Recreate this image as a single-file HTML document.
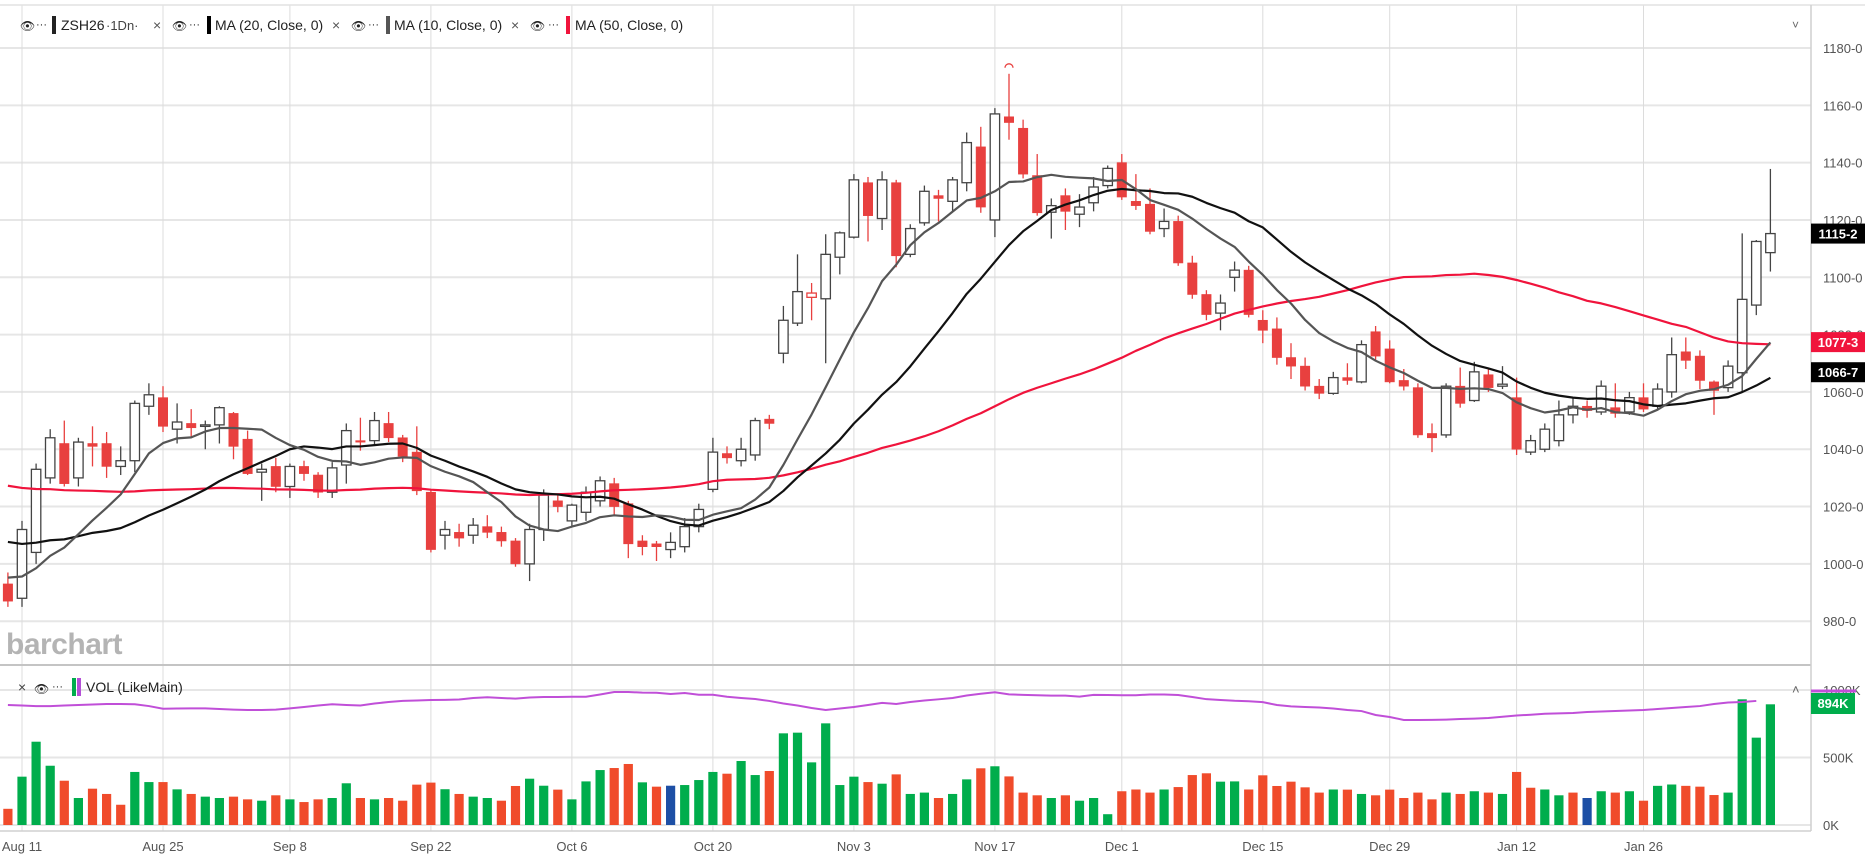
<!DOCTYPE html>
<html><head><meta charset="utf-8">
<style>
html,body{margin:0;padding:0;background:#fff;}
svg{display:block;font-family:"Liberation Sans",sans-serif;}
</style></head>
<body>
<svg id="chart" width="1865" height="858" viewBox="0 0 1865 858" xmlns="http://www.w3.org/2000/svg">
  <g id="grid"></g>
  <text x="6" y="654" font-size="30" font-weight="bold" fill="#b4b4b4" letter-spacing="-0.5">barchart</text>
  <g id="vol"></g>
  <g id="candles"></g>
  <g id="mas"></g>
  <g id="axes"></g>
  <g id="header" font-size="14" fill="#222">
    <text x="20" y="30" font-size="12">👁</text>
    <text x="36" y="28" font-size="11">···</text>
    <rect x="52" y="16" width="4" height="18" fill="#222"/>
    <text x="61" y="30">ZSH26</text>
    <text x="106" y="30" font-size="13" fill="#444">·1Dn·</text>
    <text x="153" y="30" fill="#555">×</text>
    <text x="172" y="30" font-size="12">👁</text>
    <text x="189" y="28" font-size="11">···</text>
    <rect x="207" y="16" width="4" height="18" fill="#000"/>
    <text x="215" y="30">MA (20, Close, 0)</text>
    <text x="332" y="30" fill="#555">×</text>
    <text x="351" y="30" font-size="12">👁</text>
    <text x="368" y="28" font-size="11">···</text>
    <rect x="386" y="16" width="4" height="18" fill="#555"/>
    <text x="394" y="30">MA (10, Close, 0)</text>
    <text x="511" y="30" fill="#555">×</text>
    <text x="530" y="30" font-size="12">👁</text>
    <text x="548" y="28" font-size="11">···</text>
    <rect x="566" y="16" width="4" height="18" fill="#f0143c"/>
    <text x="575" y="30">MA (50, Close, 0)</text>
    <text x="1792" y="29" font-size="12" fill="#666">˅</text>
  </g>
  <g id="volheader" font-size="14" fill="#222">
    <text x="18" y="692" fill="#444">×</text>
    <text x="34" y="693" font-size="12">👁</text>
    <text x="52" y="690" font-size="11">···</text>
    <rect x="72" y="678" width="4" height="18" fill="#00ad4c"/>
    <rect x="77" y="678" width="4" height="18" fill="#b34fd6"/>
    <text x="86" y="692">VOL (LikeMain)</text>
    <text x="1792" y="694" font-size="13" fill="#666">˄</text>
  </g>
</svg>
<script>
const opens=[993,988,1004,1030,1042,1030,1042,1042,1034,1036,1055,1058,1047,1049,1048,1048.5,1052.5,1043.5,1032,1034,1027,1034,1031,1025,1034.5,1043,1043,1049,1044,1039,1025,1010,1011,1010,1013,1011,1008,1000,1012,1022,1015,1018,1022,1028,1021,1008,1007,1005,1006,1013,1026,1038.5,1036,1038,1050.5,1073.5,1084,1093,1092.5,1107,1114,1133,1120.5,1133,1108,1119,1128.5,1126.5,1133,1145.5,1120,1156,1152,1135.5,1122.7,1128.5,1122,1126,1132,1140,1126.5,1125.5,1117,1119.5,1105,1094,1087.5,1100,1102.5,1085,1082,1072,1069,1062,1059.5,1065,1063.5,1081,1075,1064,1061.5,1045.5,1045,1062,1057,1066,1062,1058,1039,1040,1043,1052,1055,1053,1054.5,1053,1058,1055,1060,1074,1072.5,1063.5,1061.5,1066.7,1090.3,1108.6];
const highs=[997,1015,1035,1047,1050,1044,1048,1046,1041,1057,1063,1062,1056,1054,1050,1055,1053,1046.5,1035,1037,1035,1036,1032,1035.5,1049,1051,1053,1053,1045,1048,1026,1015,1014,1016,1017,1013,1009,1014,1026,1024,1021,1027,1030.5,1030,1022,1010,1008,1011,1016,1021,1044,1041,1044,1051,1052,1090,1108,1098,1115,1116,1136,1135,1137,1134,1118.5,1132,1130.5,1135,1150.5,1152.5,1159,1171,1155,1143,1127.5,1131,1129,1135,1139,1143,1136,1131,1124,1121.5,1107.5,1095.5,1094,1105.5,1104,1088.5,1086,1077,1072,1064.5,1067,1070,1078,1083,1078,1068,1063,1049,1063,1068.5,1070.5,1068,1069,1065,1045,1049,1057,1058,1057,1064,1063,1060,1063,1063,1079,1079,1074.5,1064,1071,1115.3,1113,1137.8];
const lows=[985,985,1000,1028,1027,1027,1034,1030,1031,1032,1052,1046,1042,1044,1040,1042,1036.5,1031,1022,1025,1023,1029,1023,1023,1028,1039.5,1041.5,1042.5,1035.5,1024,1004,1005,1006,1007,1009,1006,999,994,1008,1018,1013,1015,1020,1017,1002,1003,1001,1002,1004,1011,1025,1035,1034,1036,1047,1070,1083,1085,1070,1101,1113.5,1112.5,1116.5,1103.5,1107,1118,1119.5,1123,1130,1122.5,1114,1148,1134.5,1121.5,1113.5,1116.5,1117.5,1123,1131,1127,1123.5,1115,1114,1104,1092.5,1085,1081.5,1095,1086,1077,1069.5,1064.5,1060.5,1057.5,1059,1062.5,1063,1071,1063,1060.5,1044,1039,1044,1054.5,1056.5,1060,1061,1038,1038,1039,1041,1049,1051,1052,1051,1052,1053,1054,1058,1068,1061,1052,1060,1059.8,1086.8,1102];
const closes=[987,1012,1033,1044,1028,1042.5,1041,1034,1036,1056,1059,1048,1049.5,1047.5,1048.5,1054.5,1041,1031.5,1033,1027,1034,1031.5,1025,1033.5,1046.5,1042.5,1050,1044,1037.5,1025.5,1005,1012,1009,1013.5,1011,1008,1000,1012,1024,1020,1020.5,1025,1029,1020,1007,1006,1006,1007.5,1013,1019,1039,1037,1040,1050,1049,1085,1095,1094.5,1108,1115.5,1134,1121.5,1134,1107.5,1117,1130,1127.5,1134,1147,1124.5,1157,1154,1136,1122.5,1125,1123,1124.5,1131.5,1138,1128,1125,1116,1119.5,1105,1094,1087,1091,1102.5,1087,1081.5,1072,1069,1062,1059.5,1065,1064,1076.5,1072.5,1063.5,1062,1045,1044,1062,1056,1067,1061.5,1062.7,1040,1043,1047,1052,1055,1053.5,1062,1052.5,1058,1054,1061,1073,1071,1064,1060.5,1069,1092.3,1112.5,1115.25];
const priorCloses=[1050,1052,1047,1045,1049,1046,1043,1044,1048,1042,1040,1043,1041,1038,1042,1044,1039,1037,1040,1036,1038,1035,1037,1034,1036,1033,1035,1032,1034,1030,1026,1024,1027,1022,1020,1018,1021,1016,1015,1012,1008,1004,1001,999,996,993,990,989,985];
const volumes=[120,358,617,439,328,200,269,230,150,393,318,318,264,230,210,200,210,190,180,220,190,170,190,200,309,200,190,200,180,299,314,265,230,210,200,180,289,343,291,262,190,323,407,422,452,316,284,291,296,333,393,380,474,370,400,679,684,464,753,296,358,318,306,375,230,240,200,230,338,420,435,360,240,220,200,220,180,200,80,250,263,240,263,281,370,383,321,323,263,368,289,321,279,240,263,262,230,220,262,200,240,190,240,230,250,240,230,393,276,263,220,240,200,250,240,250,180,290,300,290,284,222,240,931,647,894];
const volColors=[
"r","g","g","g","r","g","r","r","r","g",
"g","r","g","r","g","g","r","r","g","r",
"g","r","r","g","g","r","g","r","r","r",
"r","g","r","g","g","r","r","g","g","r",
"g","g","g","r","r","g","r","b","g","g",
"g","r","g","g","r","g","g","g","g","g",
"g","r","g","r","g","g","r","g","g","r",
"g","r","r","r","g","r","g","g","g","r",
"r","r","g","r","r","r","g","g","r","r",
"r","r","r","r","g","r","g","r","r","r",
"r","r","g","r","g","r","g","r","r","g",
"g","r","b","g","r","g","r","g","g","r",
"r","r","g","g","g","g"];
const oiLine=[889,885,881,881,885,889,893,896,896,894,881,861,863,864,864,859,855,852,852,855,864,874,885,894,889,885,900,911,919,922,926,927,930,941,946,941,936,944,948,948,950,950,967,985,985,981,980,970,978,965,965,950,941,933,919,900,885,867,852,863,874,889,905,896,911,922,931,941,959,972,983,968,964,961,958,958,951,964,963,961,961,967,967,963,948,932,926,920,917,910,889,879,874,870,863,852,844,815,800,778,778,779,781,785,788,793,802,811,817,824,827,830,837,841,844,848,852,859,867,874,881,896,907,911,919];
const dateLabels=["Aug 11","Aug 25","Sep 8","Sep 22","Oct 6","Oct 20","Nov 3","Nov 17","Dec 1","Dec 15","Dec 29","Jan 12","Jan 26"];
const dateIndex=[1,11,20,30,40,50,60,70,79,89,98,107,116];
const priceTicks=[980,1000,1020,1040,1060,1080,1100,1120,1140,1160,1180];
const volTicks=[0,500,1000];
const volTickLabels=["0K","500K","1000K"];
const lastMarkers=[{v:1115.25,t:"1115-2",c:"#000"},{v:1077.375,t:"1077-3",c:"#f0143c"},{v:1066.875,t:"1066-7",c:"#000"}];

const NS="http://www.w3.org/2000/svg";
const xOf=i=>7.9+14.1*i;
const yP=p=>48+(1180-p)*2.866;
const yV=v=>825-v*0.135;
function mk(tag,attrs,parent){const e=document.createElementNS(NS,tag);for(const k in attrs)e.setAttribute(k,attrs[k]);parent.appendChild(e);return e;}
const grid=document.getElementById('grid'),axes=document.getElementById('axes');

priceTicks.forEach(p=>{const l=mk('line',{x1:0,x2:1811,y1:yP(p),y2:yP(p),stroke:'#e6e6e6','stroke-width':2},grid);


const t=mk('text',{x:1823,y:yP(p)+5,'font-size':13,fill:'#555'},axes);t.textContent=p+"-0";

});
volTicks.forEach((v,k)=>{const l=mk('line',{x1:0,x2:1811,y1:yV(v),y2:yV(v),stroke:'#e6e6e6','stroke-width':2},grid);


const t=mk('text',{x:1823,y:yV(v)+5,'font-size':13,fill:'#555'},axes);t.textContent=volTickLabels[k];

});
dateIndex.forEach((i,k)=>{const x=xOf(i);const l=mk('line',{x1:x,x2:x,y1:5,y2:831,stroke:'#dcdcdc','stroke-width':1},grid);


const t=mk('text',{x:x,y:851,'font-size':13,fill:'#555','text-anchor':'middle'},axes);t.textContent=dateLabels[k];

});
[[0,5,1865,5,'#e2e2e2',1.5],[0,665,1811,665,'#c4c4c4',2],[0,831,1811,831,'#d0d0d0',1.5],[1811,5,1811,831,'#cfcfcf',1.5]].forEach(a=>{
const l=mk('line',{x1:a[0],y1:a[1],x2:a[2],y2:a[3],stroke:a[4],'stroke-width':a[5]},grid);

});

const vg=document.getElementById('vol');
const vcol={g:'#00ad4c',r:'#f04b2b',b:'#1d4fa5'};
volumes.forEach((v,i)=>{const r=mk('rect',{x:xOf(i)-4.6,y:yV(v),width:9.2,height:yV(0)-yV(v),fill:vcol[volColors[i]]||'#00ad4c'},vg);

});
const oi=mk('polyline',{points:oiLine.map((v,i)=>xOf(i)+','+yV(v)).join(' '),fill:'none',stroke:'#c04fd8','stroke-width':2},vg);



const cg=document.getElementById('candles');
opens.forEach((o,i)=>{const c=closes[i],x=xOf(i);const up=c>=o;const prev=i>0?closes[i-1]:c;
const hollowRed=up&&c<prev;const col=up?(hollowRed?'#e8403f':'#444'):'#e8403f';
const w=mk('line',{x1:x,x2:x,y1:yP(highs[i]),y2:yP(lows[i]),stroke:col,'stroke-width':1.3},cg);


const top=yP(Math.max(o,c)),h=Math.max(1.5,Math.abs(yP(o)-yP(c)));
const b=mk('rect',{x:x-4.7,y:top,width:9.4,height:h,fill:up?'#fff':'#e8403f',stroke:col,'stroke-width':up?1.3:0.6},cg);

});
const hiIdx=highs.indexOf(Math.max(...highs));
const arc=mk('path',{d:`M${xOf(hiIdx)-4},${yP(highs[hiIdx])-6} A4 4 0 0 1 ${xOf(hiIdx)+4},${yP(highs[hiIdx])-6}`,fill:'none',stroke:'#e8403f','stroke-width':1.3},cg);



const all=priorCloses.concat(closes),P=priorCloses.length;
function ma(n){return closes.map((_,i)=>{let s=0;for(let k=0;k<n;k++)s+=all[P+i-k];return s/n;});}
const mg=document.getElementById('mas');
[[50,'#f0143c','ma50-line'],[20,'#111','ma20-line'],[10,'#555','ma10-line']].forEach(d=>{
const vals=ma(d[0]);const pl=mk('polyline',{points:vals.map((v,i)=>xOf(i)+','+yP(v)).join(' '),fill:'none',stroke:d[1],'stroke-width':2.2,'stroke-linejoin':'round'},mg);

});

lastMarkers.forEach(m=>{const y=yP(m.v);
const r=mk('rect',{x:1811,y:y-10,width:54,height:20,fill:m.c},axes);


const t=mk('text',{x:1838,y:y+5,'font-size':13,'font-weight':'bold',fill:'#fff','text-anchor':'middle'},axes);t.textContent=m.t;

});
const oiTick=mk('line',{x1:1811,x2:1856,y1:691,y2:691,stroke:'#c04fd8','stroke-width':3},axes);


const vb=mk('rect',{x:1811,y:693,width:44,height:21,fill:'#00ad4c'},axes);


const vt=mk('text',{x:1833,y:708,'font-size':13,'font-weight':'bold',fill:'#fff','text-anchor':'middle'},axes);vt.textContent=volumes[volumes.length-1]+"K";


</script>
</body></html>
